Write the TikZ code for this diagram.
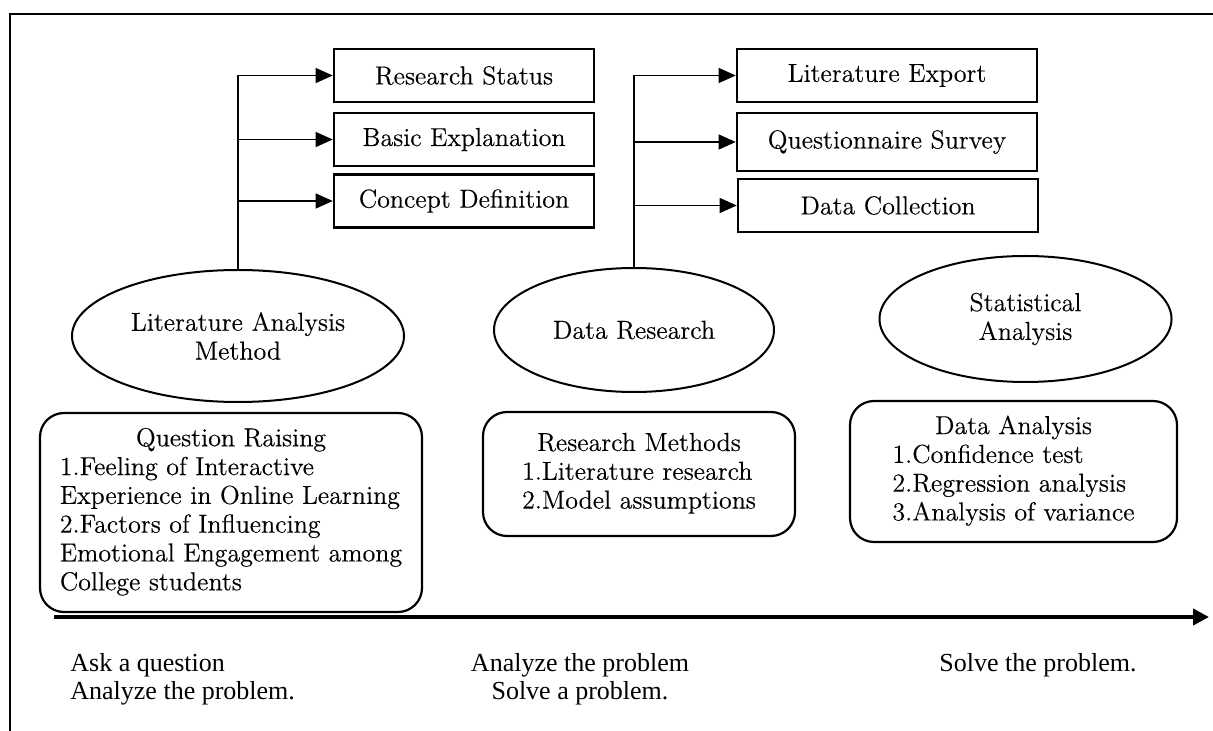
\documentclass[tikz,border=0pt]{standalone}
\usepackage{fontspec}
\newfontfamily\timesfont{Liberation Serif}
\newfontfamily\boxface{Latin Modern Roman}[FakeBold=0.3]
\usepackage{tikz}
\usetikzlibrary{shapes.geometric, arrows.meta, positioning}
\newcommand{\boxfont}{\boxface\fontsize{13}{14.4}\selectfont}

\begin{document}
\begin{tikzpicture}[
    x=0.5pt, y=-0.5pt,
    frame/.style={line width=1pt, draw=black},
    topic/.style={
        rectangle, draw=black, line width=1.3pt, minimum width=130pt, minimum height=26.5pt,
        inner sep=0pt, font=\boxfont
    },
    method/.style={
        ellipse, draw=black, line width=1pt, inner sep=0pt, align=center, font=\boxfont
    },
    stagebox/.style={
        rectangle, draw=black, line width=1.1pt, rounded corners=12pt, inner sep=0pt, font=\boxfont
    },
    trunk/.style={line width=0.6pt, draw=black},
    branch/.style={-{Triangle[length=8.5pt, width=7.5pt]}, line width=0.6pt, draw=black},
    timeline/.style={-{Triangle[length=8pt, width=8pt]}, line width=2pt, draw=black},
    phase/.style={font=\timesfont\fontsize{13}{14}\selectfont, inner sep=0pt}
]
\useasboundingbox (0,0) rectangle (1213,731);

% Outer frame (open to the right and bottom)
\draw[frame] (10,731) |- (1213,14);

% Top row, left: literature topics
\node[topic] (rs) at (464,75.5) {Research Status};
\node[topic] (be) at (464,139.5) {Basic Explanation};
\node[topic] (cd) at (464,201) {Concept Definition};

% Top row, middle: research topics
\node[topic, minimum width=150pt] (le) at (887,75.5) {Literature Export};
\node[topic, minimum width=150pt, minimum height=29pt] (qs) at (887,142) {Questionnaire Survey};
\node[topic, minimum width=150pt] (dc) at (888,205.5) {Data Collection};

% Middle row: methods
\node[method, minimum width=166pt, minimum height=66pt] (lam) at (238,336) {Literature Analysis\\Method};
\node[method, minimum width=140pt, minimum height=62pt] (dr) at (634,330) {Data Research};
\node[method, minimum width=146pt, minimum height=63pt] (sa) at (1025.5,319) {Statistical\\Analysis};

% Bottom row: stages
\node[stagebox, minimum width=191pt, minimum height=99.5pt] (qr) at (231,512.5) {
    \begin{tabular}{@{}l@{}}
        \multicolumn{1}{c}{Question Raising} \\
        1.Feeling of Interactive \\
        Experience in Online Learning \\
        2.Factors of Influencing \\
        Emotional Engagement among \\
        College students \\
    \end{tabular}
};

\node[stagebox, minimum width=156pt, minimum height=62pt] (rm) at (639,474) {
    \begin{tabular}{@{}l@{}}
        \multicolumn{1}{c}{Research Methods} \\
        1.Literature research \\
        2.Model assumptions \\
    \end{tabular}
};

\node[stagebox, minimum width=163.5pt, minimum height=70.5pt] (da) at (1013.5,471.5) {
    \begin{tabular}{@{}l@{}}
        \multicolumn{1}{c}{Data Analysis} \\
        1.Confidence test \\
        2.Regression analysis \\
        3.Analysis of variance \\
    \end{tabular}
};

% Branches from the methods to their topics
\draw[trunk] (lam.north) -- (lam.north |- rs.west);
\draw[branch] (lam.north |- rs.west) -- (rs.west);
\draw[branch] (lam.north |- be.west) -- (be.west);
\draw[branch] (lam.north |- cd.west) -- (cd.west);

\draw[trunk] (dr.north) -- (dr.north |- le.west);
\draw[branch] (dr.north |- le.west) -- (le.west);
\draw[branch] (dr.north |- qs.west) -- (qs.west);
\draw[branch] (dr.north |- dc.west) -- (dc.west);

% Time line and phases
\coordinate (tstart) at (54,617);
\coordinate (tend) at (1209,617);
\draw[timeline] (tstart) -- (tend);

\node[phase, anchor=west, align=left] (ask) at (70,679) {Ask a question\\Analyze the problem.};
\node[phase, align=center] (analyze) at (580,679) {Analyze the problem\\Solve a problem.};
\node[phase, anchor=west] (solve) at (939,665) {Solve the problem.};

\end{tikzpicture}
\end{document}
